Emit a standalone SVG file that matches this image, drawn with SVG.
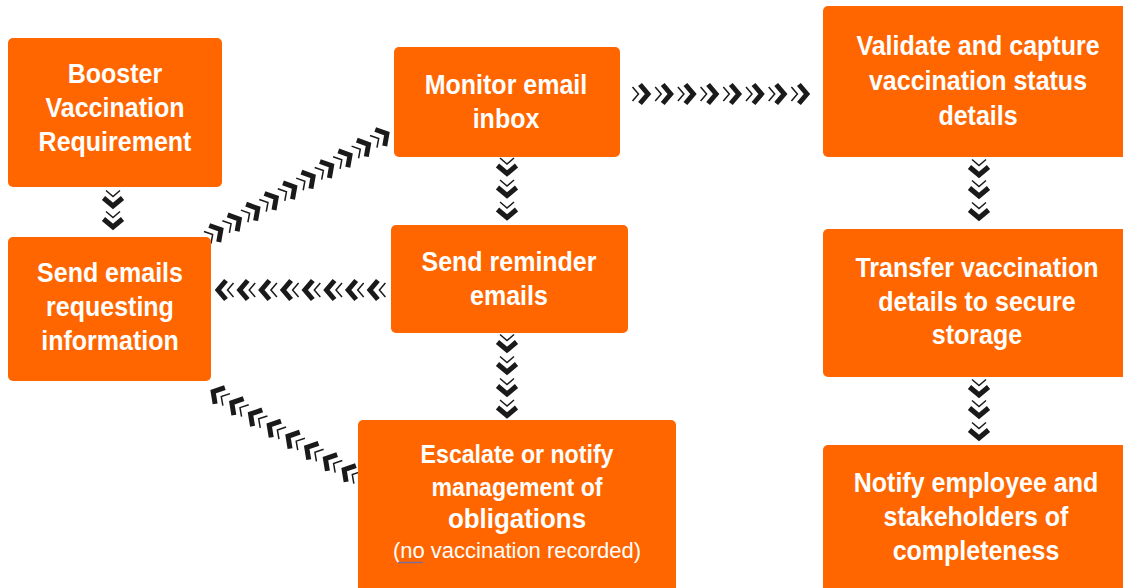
<svg xmlns="http://www.w3.org/2000/svg" width="1123" height="588" viewBox="0 0 1123 588">
  <style>
    .box { fill: #FF6600; }
    .t { font-family: "Liberation Sans", Arial, sans-serif; font-weight: bold; font-size: 27px; fill: #ffffff; text-anchor: middle;
         transform-box: fill-box; transform-origin: center; transform: scaleX(0.926); }
    .t23 { font-size: 25px; }
    .t26 { font-size: 28px; }
    .note { font-family: "Liberation Sans", Arial, sans-serif; font-weight: normal; font-size: 22px; fill: #ffffff; text-anchor: middle; }
    .thin { fill: none; stroke: #1a1a1a; stroke-width: 1.5; }
    .thick { fill: none; stroke: #1a1a1a; stroke-width: 5; stroke-linejoin: miter; }
  </style>
  <defs>
    <!-- one chevron step: a light chevron followed by a heavy one, pointing along +x -->
    <g id="chev">
      <polyline class="thin" points="-11,-7 -5,0 -11,7"/>
      <polyline class="thick" points="-3.5,-9.5 4.5,0 -3.5,9.5"/>
    </g>
  </defs>
  <rect width="1123" height="588" fill="#ffffff"/>

  <g id="connectors">
    <!-- Booster -> Send emails -->
    <use href="#chev" transform="translate(113,201.5) rotate(90)"/>
    <use href="#chev" transform="translate(113,222.5) rotate(90)"/>
    <!-- Send emails -> Monitor inbox -->
    <use href="#chev" transform="translate(217,232) rotate(-30)"/>
    <use href="#chev" transform="translate(235.4,221.3) rotate(-30)"/>
    <use href="#chev" transform="translate(253.9,210.7) rotate(-30)"/>
    <use href="#chev" transform="translate(272.3,200) rotate(-30)"/>
    <use href="#chev" transform="translate(290.8,189.3) rotate(-30)"/>
    <use href="#chev" transform="translate(309.2,178.7) rotate(-30)"/>
    <use href="#chev" transform="translate(327.7,168) rotate(-30)"/>
    <use href="#chev" transform="translate(346.1,157.3) rotate(-30)"/>
    <use href="#chev" transform="translate(364.6,146.7) rotate(-30)"/>
    <use href="#chev" transform="translate(383,136) rotate(-30)"/>
    <!-- Send reminder -> Send emails -->
    <use href="#chev" transform="translate(222.5,290) rotate(180)"/>
    <use href="#chev" transform="translate(244.2,290) rotate(180)"/>
    <use href="#chev" transform="translate(265.9,290) rotate(180)"/>
    <use href="#chev" transform="translate(287.6,290) rotate(180)"/>
    <use href="#chev" transform="translate(309.3,290) rotate(180)"/>
    <use href="#chev" transform="translate(331,290) rotate(180)"/>
    <use href="#chev" transform="translate(352.7,290) rotate(180)"/>
    <use href="#chev" transform="translate(374.4,290) rotate(180)"/>
    <!-- Escalate -> Send emails -->
    <use href="#chev" transform="translate(217,394) rotate(210.8)"/>
    <use href="#chev" transform="translate(235.7,405.1) rotate(210.8)"/>
    <use href="#chev" transform="translate(254.4,416.3) rotate(210.8)"/>
    <use href="#chev" transform="translate(273.1,427.4) rotate(210.8)"/>
    <use href="#chev" transform="translate(291.9,438.6) rotate(210.8)"/>
    <use href="#chev" transform="translate(310.6,449.7) rotate(210.8)"/>
    <use href="#chev" transform="translate(329.3,460.9) rotate(210.8)"/>
    <use href="#chev" transform="translate(348,472) rotate(210.8)"/>
    <!-- Monitor inbox -> Validate -->
    <use href="#chev" transform="translate(643.5,94)"/>
    <use href="#chev" transform="translate(666.2,94)"/>
    <use href="#chev" transform="translate(688.9,94)"/>
    <use href="#chev" transform="translate(711.6,94)"/>
    <use href="#chev" transform="translate(734.3,94)"/>
    <use href="#chev" transform="translate(757,94)"/>
    <use href="#chev" transform="translate(779.7,94)"/>
    <use href="#chev" transform="translate(802.4,94)"/>
    <!-- Monitor inbox -> Send reminder -->
    <use href="#chev" transform="translate(507,169) rotate(90)"/>
    <use href="#chev" transform="translate(507,191) rotate(90)"/>
    <use href="#chev" transform="translate(507,213) rotate(90)"/>
    <!-- Send reminder -> Escalate -->
    <use href="#chev" transform="translate(507,345.5) rotate(90)"/>
    <use href="#chev" transform="translate(507,367.5) rotate(90)"/>
    <use href="#chev" transform="translate(507,389.5) rotate(90)"/>
    <use href="#chev" transform="translate(507,411) rotate(90)"/>
    <!-- Validate -> Transfer -->
    <use href="#chev" transform="translate(979,170.5) rotate(90)"/>
    <use href="#chev" transform="translate(979,191.5) rotate(90)"/>
    <use href="#chev" transform="translate(979,213.5) rotate(90)"/>
    <!-- Transfer -> Notify -->
    <use href="#chev" transform="translate(979,390.5) rotate(90)"/>
    <use href="#chev" transform="translate(979,411.5) rotate(90)"/>
    <use href="#chev" transform="translate(979,433.5) rotate(90)"/>
  </g>

  <g id="booster">
    <rect class="box" x="8" y="38" width="214" height="149" rx="5"/>
    <text class="t" x="115" y="83">Booster</text>
    <text class="t" x="115" y="117">Vaccination</text>
    <text class="t" x="115" y="151">Requirement</text>
  </g>

  <g id="send-emails">
    <rect class="box" x="8" y="237" width="203" height="144" rx="5"/>
    <text class="t" x="110" y="282">Send emails</text>
    <text class="t" x="110" y="316">requesting</text>
    <text class="t" x="110" y="350">information</text>
  </g>

  <g id="monitor-inbox">
    <rect class="box" x="394" y="47" width="226" height="110" rx="5"/>
    <text class="t" x="506" y="94">Monitor email</text>
    <text class="t" x="506" y="128">inbox</text>
  </g>

  <g id="send-reminder">
    <rect class="box" x="391" y="225" width="237" height="108" rx="5"/>
    <text class="t" x="509" y="271">Send reminder</text>
    <text class="t" x="509" y="305">emails</text>
  </g>

  <g id="escalate">
    <rect class="box" x="358" y="420" width="318" height="190" rx="5"/>
    <text class="t t23" x="517" y="463">Escalate or notify</text>
    <text class="t t23" x="517" y="496">management of</text>
    <text class="t t26" x="517" y="528">obligations</text>
    <text class="note" x="517" y="558">(no vaccination recorded)</text>
    <line x1="398" y1="562.5" x2="423" y2="562.5" stroke="#7a6e9e" stroke-width="1.5"/>
  </g>

  <g id="validate">
    <rect class="box" x="823" y="6" width="320" height="151" rx="5"/>
    <text class="t" x="978" y="55">Validate and capture</text>
    <text class="t" x="978" y="90">vaccination status</text>
    <text class="t" x="978" y="125">details</text>
  </g>

  <g id="transfer">
    <rect class="box" x="823" y="229" width="320" height="148" rx="5"/>
    <text class="t" x="977" y="277">Transfer vaccination</text>
    <text class="t" x="977" y="311">details to secure</text>
    <text class="t" x="977" y="344">storage</text>
  </g>

  <g id="notify">
    <rect class="box" x="823" y="445" width="320" height="170" rx="5"/>
    <text class="t" x="976" y="492">Notify employee and</text>
    <text class="t" x="976" y="526">stakeholders of</text>
    <text class="t" x="976" y="560">completeness</text>
  </g>
</svg>
